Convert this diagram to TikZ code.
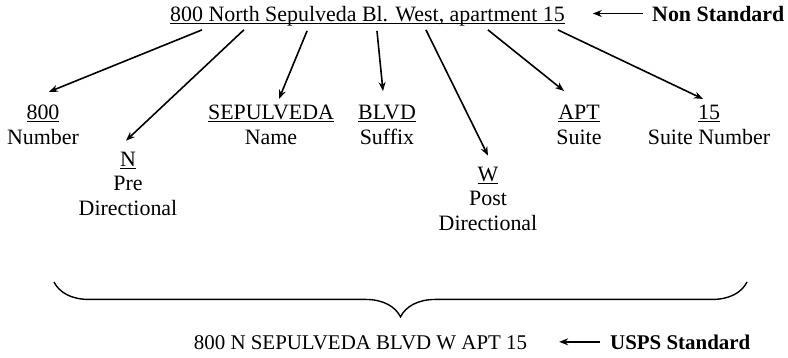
\documentclass[tikz,border=0pt]{standalone}
\usepackage{fontspec}
\setmainfont{Liberation Serif}
\usetikzlibrary{calc,positioning,arrows.meta,decorations.pathreplacing}
\newcommand\undl[1]{\setbox0\hbox{#1}\rlap{\rule[-2.6pt]{\wd0}{0.8pt}}\box0}
\tikzset{
    every node/.style={
        inner sep=0pt,
        font=\fontsize{22}{24.5}\selectfont
    },
    field/.style={
        align=center,
        anchor=base
    },
    tag/.style={
        anchor=base west,
        font=\fontsize{22}{24.5}\selectfont\bfseries
    },
    link/.style={
        ->,
        line width=1.6pt
    },
    >={Stealth[length=9pt,width=7pt]}
}

\begin{document}
\begin{tikzpicture}[x=1bp,y=-1bp]
	\useasboundingbox (0,0) rectangle (788,357);
	\node (top) at (367.5,21) [anchor=base] {\undl{800 North Sepulveda Bl. West, apartment 15}};
	\node (ns) at (652,21) [tag] {Non Standard};
	% Fields (base = last line)
	\node (num) at (43,144) [field] {\undl{800}\\Number};
	\node (pre) at (128,215) [field] {\undl{N}\\Pre\\Directional};
	\node (name) at (271,144) [field] {\undl{SEPULVEDA}\\Name};
	\node (suf) at (387,144) [field] {\undl{BLVD}\\Suffix};
	\node (post) at (488,230) [field] {\undl{W}\\Post\\Directional};
	\node (apt) at (579,144) [field] {\undl{APT}\\Suite};
	\node (aptn) at (709,144) [field] {\undl{15}\\Suite Number};
	% Standard form
	\node (usps) at (360.5,349) [anchor=base, font=\fontsize{21}{24}\selectfont] {800 N SEPULVEDA BLVD W APT 15};
	\node (std) at (610,349) [tag, font=\fontsize{21}{24}\selectfont\bfseries] {USPS Standard};
	% Connectors
	\coordinate (a1) at ($(top.south west)!0.081!(top.south east)+(0,4)$);
	\coordinate (a2) at ($(top.south west)!0.187!(top.south east)+(0,4)$);
	\coordinate (a3) at ($(top.south west)!0.347!(top.south east)+(0,5)$);
	\coordinate (a4) at ($(top.south west)!0.524!(top.south east)+(0,5)$);
	\coordinate (a5) at ($(top.south west)!0.648!(top.south east)+(0,4)$);
	\coordinate (a6) at ($(top.south west)!0.805!(top.south east)+(0,4)$);
	\coordinate (a7) at ($(top.south west)!0.982!(top.south east)+(0,4)$);
	\draw [link] (a1) -- ($(num.north)+(6,-13)$);
	\draw [link] (a2) -- ($(pre.north)+(-2,-11)$);
	\draw [link] (a3) -- ($(name.north)+(8,-6)$);
	\draw [link] (a4) -- ($(suf.north)+(-4,-14)$);
	\draw [link] (a5) -- ($(post.north)+(0,-11)$);
	\draw [link] (a6) -- ($(apt.north)+(-15,-14)$);
	\draw [link] (a7) -- ($(aptn.north)+(-6,-6)$);
	\draw [->, line width=1.3pt, shorten <=9pt, shorten >=28pt] (ns.west) -- (ns.west -| top.east);
	\draw [->, line width=1.3pt, shorten <=10pt, shorten >=32pt] (std.west) -- (std.west -| usps.east);
	% Brace
	\coordinate (b1) at (54,282);
	\coordinate (b2) at (747,282);
	\draw [line width=1.4pt, decorate, decoration={brace, mirror, amplitude=35pt}] (b1) -- (b2);
\end{tikzpicture}
\end{document}
